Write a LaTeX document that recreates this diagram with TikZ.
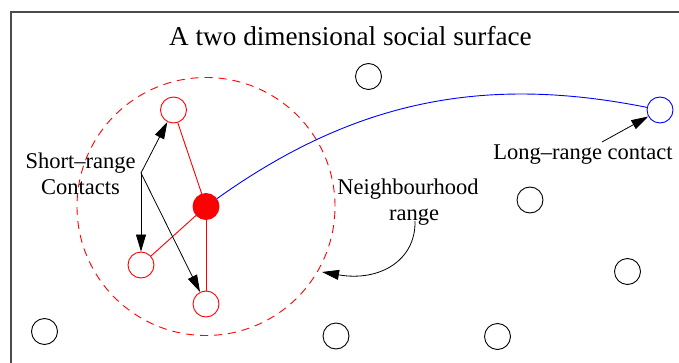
\documentclass[tikz,border=0pt]{standalone}
\usepackage{fontspec}
\setmainfont{Liberation Serif}
\usetikzlibrary{arrows.meta}
\begin{document}
\begin{tikzpicture}[x=1pt,y=-1pt,
  dot/.style={circle,draw,line width=0.9pt,minimum size=26pt,inner sep=0pt},
  reddot/.style={dot,draw=red},
  lbl/.style={font=\fontsize{22.5}{26.5}\selectfont,inner sep=0pt,align=center},
  pointer/.style={-{Triangle[length=17pt,width=10pt]},line width=0.8pt},
  rededge/.style={draw=red,line width=0.9pt},
]
\useasboundingbox (0,0) rectangle (679,363);
\begin{scope}
\clip (0,0) rectangle (679,363);
\draw[line width=1.4pt,draw=black!70] (11,12) rectangle (700,380);
\end{scope}

\node[font=\fontsize{27.2}{32}\selectfont,inner sep=0pt] (title) at (350.5,36) {A two dimensional social surface};

% neighbourhood range
\node[circle,draw=red,line width=0.9pt,dash pattern=on 8pt off 6pt,minimum size=258pt,inner sep=0pt] (nbr) at (206,206.5) {};

% nodes
\node[dot,fill=red,draw=red] (hub) at (206,206.5) {};
\node[reddot] (r1) at (173.5,110) {};
\node[reddot] (r2) at (141,265) {};
\node[reddot] (r3) at (206,304) {};
\node[dot,draw=blue] (lr) at (660,110) {};
\node[dot] (b1) at (368.5,76.5) {};
\node[dot] (b2) at (530,200) {};
\node[dot] (b3) at (627.5,271.5) {};
\node[dot] (b4) at (44.5,331.5) {};
\node[dot] (b5) at (336,336) {};
\node[dot] (b6) at (497.5,336.5) {};

% edges
\draw[rededge] (hub) -- (r1);
\draw[rededge] (hub) -- (r2);
\draw[rededge] (hub) -- (r3);
\draw[draw=blue,line width=0.9pt] (hub) .. controls (355,100) and (485,75) .. (lr);

% labels
\node[lbl] (src) at (80.5,174) {Short–range\\Contacts};
\node[lbl] (lrl) at (583,155) {Long–range contact};
\node[lbl] (nl) at (408,202) {Neighbourhood\\\hspace*{12pt}range};

\coordinate (apex) at (141,173);
\draw[pointer] (apex) -- (r1);
\draw[pointer] (apex) -- (r2);
\draw[pointer] (apex) -- (r3);

\coordinate (lrstart) at (602,142);
\draw[pointer] (lrstart) -- (lr);

\coordinate (nrstart) at (415,221);
\coordinate (nrtip) at (322,272);
\draw[pointer] (nrstart) .. controls (416,260) and (380,282) .. (nrtip);
\end{tikzpicture}
\end{document}
